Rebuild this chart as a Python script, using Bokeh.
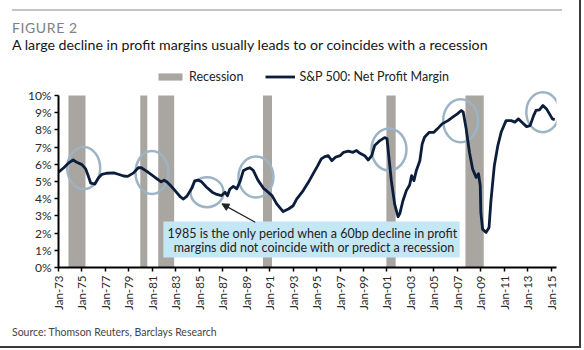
import numpy as np
from bokeh.plotting import figure
from bokeh.layouts import column
from bokeh.models import (FixedTicker, Label, BoxAnnotation, Arrow, NormalHead,
                          Legend, LegendItem, Range1d, Div)
from bokeh.embed import file_html
from bokeh.resources import INLINE

# ---------------- data ----------------
years = [1973.0, 1973.45, 1973.9, 1974.25, 1974.6, 1975.0, 1975.3, 1975.55, 1975.75, 1976.1,
         1976.4, 1976.7, 1977.1, 1977.7, 1978.1, 1978.55, 1978.9, 1979.4, 1979.8, 1980.05,
         1980.5, 1981.0, 1981.4, 1981.75, 1982.0, 1982.25, 1982.55, 1982.9, 1983.4, 1983.65,
         1983.95, 1984.4, 1984.6, 1984.9, 1985.2, 1985.6, 1986.1, 1986.5, 1986.9, 1987.2,
         1987.4, 1987.6, 1987.9, 1988.2, 1988.5, 1988.75, 1989.1, 1989.3, 1989.6, 1990.0,
         1990.5, 1990.7, 1991.2, 1991.6, 1992.15, 1992.6,
         1993.0, 1993.3, 1993.86, 1994.3, 1994.7, 1995.1, 1995.4, 1995.7, 1996.0, 1996.3,
         1996.6, 1997.0, 1997.3, 1997.7, 1998.1, 1998.4, 1998.7, 1999.1, 1999.4, 1999.7,
         1999.95, 2000.4, 2000.8, 2001.0, 2001.15, 2001.37, 2001.65, 2001.94, 2002.1, 2002.36,
         2002.65, 2002.93, 2003.1, 2003.3, 2003.5, 2003.8, 2004.0, 2004.2, 2004.6, 2005.0,
         2005.3, 2005.7, 2006.2, 2006.6, 2007.0, 2007.33, 2007.5, 2007.75, 2008.03, 2008.3,
         2008.6, 2008.8, 2008.95, 2009.0, 2009.15, 2009.45, 2009.7, 2009.85, 2010.15, 2010.45,
         2010.73, 2011.15, 2011.6, 2011.9, 2012.2, 2012.5, 2012.9, 2013.2, 2013.5, 2013.7,
         2014.0, 2014.3, 2014.6, 2014.85, 2015.1, 2015.3]
margin = [5.55, 5.8, 6.1, 6.25, 6.1, 5.98, 5.75, 5.3, 4.9, 4.85,
          5.2, 5.42, 5.48, 5.5, 5.42, 5.32, 5.3, 5.5, 5.8, 5.8,
          5.6, 5.35, 5.15, 4.98, 5.08, 4.97, 4.77, 4.5, 4.1, 3.98,
          4.15, 4.65, 5.03, 5.08, 4.98, 4.68, 4.38, 4.25, 4.18, 4.38,
          4.17, 4.55, 4.72, 4.58, 5.05, 5.62, 5.75, 5.8, 5.65, 5.08,
          4.58, 4.48, 4.18, 3.7, 3.25, 3.4,
          3.59, 3.98, 4.47, 4.95, 5.44, 5.92, 6.31, 6.45, 6.5, 6.21,
          6.41, 6.5, 6.7, 6.76, 6.7, 6.8, 6.64, 6.5, 6.25, 6.5,
          7.09, 7.38, 7.55, 7.5, 6.5, 5.05, 3.7, 2.95, 3.15, 3.88,
          4.47, 4.8, 5.34, 5.05, 5.63, 6.21, 7.18, 7.57, 7.86, 7.86,
          8.06, 8.35, 8.54, 8.74, 8.93, 9.13, 9.03, 8.06, 6.7, 5.73,
          5.24, 5.45, 4.76, 3.2, 2.23, 2.04, 2.33, 3.79, 5.92, 7.09,
          7.86, 8.54, 8.54, 8.45, 8.64, 8.45, 8.19, 8.25, 8.83, 9.13,
          9.17, 9.42, 9.22, 8.93, 8.64, 8.6]

rec_start = [1973.85, 1979.97, 1981.5, 1990.43, 2000.95, 2007.69]
rec_end = [1975.3, 1980.57, 1982.86, 1991.2, 2001.74, 2009.25]

circ_x = [1975.15, 1980.97, 1985.66, 1989.83, 2001.17, 2007.28, 2014.28]
circ_y = [5.78, 5.52, 4.38, 5.26, 6.86, 8.53, 9.03]
circ_w = [2.81, 2.81, 2.81, 2.98, 2.98, 2.98, 2.81]
circ_h = [2.44, 2.5, 1.74, 2.38, 2.44, 2.5, 2.33]

x_ticks = [1973, 1975, 1977, 1979, 1981, 1983, 1985, 1987, 1989, 1991, 1993,
           1995, 1997, 1999, 2001, 2003, 2005, 2007, 2009, 2011, 2013, 2015]
x_labels = ["Jan-73", "Jan-75", "Jan-77", "Jan-79", "Jan-81", "Jan-83", "Jan-85",
            "Jan-87", "Jan-89", "Jan-91", "Jan-93", "Jan-95", "Jan-97", "Jan-99",
            "Jan-01", "Jan-03", "Jan-05", "Jan-07", "Jan-09", "Jan-11", "Jan-13", "Jan-15"]
y_ticks = [0, 1, 2, 3, 4, 5, 6, 7, 8, 9, 10]
y_labels = ["0%", "1%", "2%", "3%", "4%", "5%", "6%", "7%", "8%", "9%", "10%"]

FONT = "Lato"
W = 579          # content width (border drawn to the right of it)
HEAD_H = 60
FIG_H = 260
FOOT_H = 26

# ---------------- header ----------------
header = Div(width=W, height=HEAD_H, margin=0, text=(
    '<div style="position:relative;width:%dpx;height:%dpx;font-family:Lato,sans-serif;">'
    '<div style="position:absolute;left:12px;top:9px;width:550px;height:0;'
    'border-top:2px solid #c4c4c4;"></div>'
    '<div style="position:absolute;left:12px;top:19px;font-size:14px;line-height:17px;'
    'letter-spacing:0.6px;color:#808080;white-space:nowrap;">FIGURE 2</div>'
    '<div style="position:absolute;left:12px;top:36px;font-size:14.2px;line-height:18px;'
    'color:#151515;white-space:nowrap;">A large decline in profit margins usually leads '
    'to or coincides with a recession</div></div>') % (W, HEAD_H))

# ---------------- figure ----------------
# frame: canvas x 58..556, canvas y 66..267  (10% at y=95)
p = figure(width=W, height=FIG_H, x_range=Range1d(1973, 2015.45), y_range=Range1d(0, 11.686),
           output_backend="svg", toolbar_location=None, title=None,
           min_border_left=58, min_border_right=W - 556, min_border_top=6,
           min_border_bottom=HEAD_H + FIG_H - 267, margin=0)
p.outline_line_color = None
p.grid.visible = False
p.background_fill_color = "white"
p.border_fill_color = "white"

for ax in (p.xaxis[0], p.yaxis[0]):
    ax.axis_line_color = "black"
    ax.axis_line_width = 2
    ax.major_tick_line_color = "black"
    ax.major_tick_line_width = 1.5
    ax.major_tick_in = 0
    ax.major_tick_out = 4
    ax.minor_tick_line_color = None
    ax.major_label_text_font = FONT
    ax.major_label_text_color = "#2a2a2a"

p.xaxis.ticker = FixedTicker(ticks=x_ticks)
p.xaxis.major_label_overrides = dict(zip(x_ticks, x_labels))
p.xaxis.major_label_orientation = np.pi / 2
p.xaxis.major_label_standoff = 4
p.xaxis.major_label_text_font_size = "11.5px"
p.yaxis.ticker = FixedTicker(ticks=y_ticks)
p.yaxis.major_label_overrides = dict(zip(y_ticks, y_labels))
p.yaxis.major_label_standoff = 3
p.yaxis.major_label_text_font_size = "12px"
p.yaxis.bounds = (0, 10)

rec_r = p.quad(left=rec_start, right=rec_end, bottom=0, top=10,
               fill_color="#a9a5a1", line_color=None)
p.ellipse(x=circ_x, y=circ_y, width=circ_w, height=circ_h, fill_color=None,
          line_color="#9db4c5", line_width=2.5)
line_r = p.line(years, margin, line_color="#0b1d3a", line_width=2.8, line_join="round")

# annotation box
box = BoxAnnotation(left=1981.94, right=2007.2, bottom=0.58, top=2.67,
                    fill_color="#c4e7f5", fill_alpha=1.0, line_color=None)
p.add_layout(box)
for txt, yy in (("1985 is the only period when  a 60bp decline in profit", 1.95),
                ("margins did not coincide with or predict a recession", 1.17)):
    p.add_layout(Label(x=1994.8, y=yy, text=txt, text_align="center", text_baseline="middle",
                       text_font=FONT, text_font_size="12.5px", text_color="#222222"))
p.add_layout(Arrow(end=NormalHead(size=7, fill_color="#222222", line_color="#222222"),
                   x_start=1989.77, y_start=2.63, x_end=1986.93, y_end=3.70,
                   line_color="#222222", line_width=1.2))

# legend (inside the frame, above the 10% line)
legend = Legend(items=[LegendItem(label="Recession", renderers=[rec_r]),
                       LegendItem(label="S&P 500: Net Profit Margin", renderers=[line_r])],
                orientation="horizontal", location=(97, 183),
                glyph_width=30, glyph_height=9, label_height=12, label_width=10,
                label_standoff=4, spacing=22, padding=0, margin=0,
                background_fill_alpha=0, border_line_color=None,
                label_text_font=FONT, label_text_font_size="12.5px", label_text_color="#222222")
p.add_layout(legend, "center")

# ---------------- footer ----------------
footer = Div(width=W, height=FOOT_H, margin=0, text=(
    '<div style="position:relative;width:%dpx;height:%dpx;font-family:Lato,sans-serif;">'
    '<div style="position:absolute;left:12px;top:6px;font-size:10.5px;line-height:13px;'
    'color:#444444;white-space:nowrap;">Source: Thomson Reuters, Barclays Research</div>'
    '</div>') % (W, FOOT_H))

layout = column(header, p, footer, spacing=0, margin=0,
                styles={"border-right": "2px solid #3a3a3a",
                        "border-bottom": "2px solid #3a3a3a",
                        "background-color": "white"})

open("out.html", "w").write(file_html(layout, INLINE))
